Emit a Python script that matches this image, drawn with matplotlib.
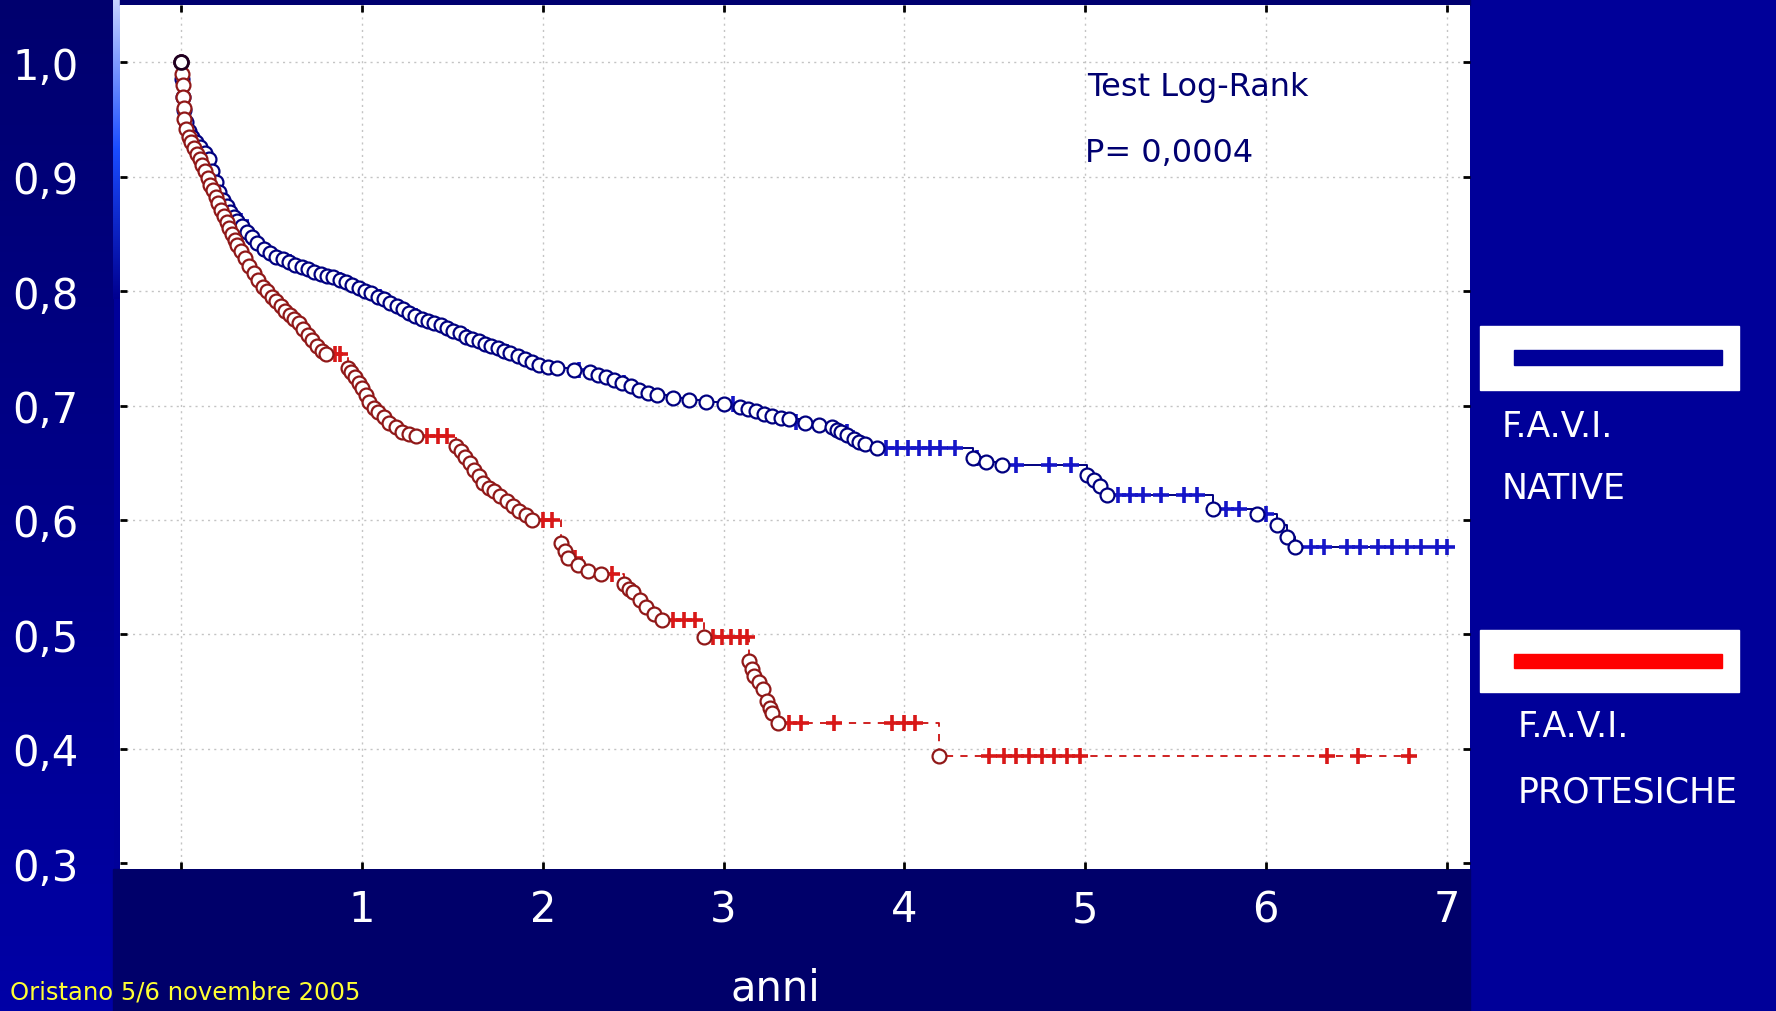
import numpy as np
import matplotlib
matplotlib.use("Agg")
import matplotlib.pyplot as plt
from matplotlib.patches import Rectangle
from matplotlib.colors import LinearSegmentedColormap

# F.A.V.I. native: event times (years) and survival after each event
native_t = [0.0, 0.005, 0.01, 0.015, 0.025, 0.04, 0.06, 0.08, 0.10, 0.13, 0.15, 0.17,
            0.19, 0.21, 0.23, 0.25, 0.27, 0.29, 0.31, 0.335, 0.36, 0.39, 0.42, 0.455,
            0.49, 0.525, 0.56, 0.595, 0.63, 0.665, 0.70, 0.735, 0.77, 0.805, 0.84, 0.875,
            0.91, 0.945, 0.98, 1.015, 1.05, 1.085, 1.12, 1.155, 1.19, 1.225, 1.26, 1.295,
            1.33, 1.365, 1.40, 1.435, 1.47, 1.505, 1.54, 1.575, 1.61, 1.645, 1.68, 1.715,
            1.75, 1.785, 1.82, 1.86, 1.90, 1.94, 1.98, 2.03, 2.08, 2.17, 2.26, 2.305,
            2.35, 2.395, 2.44, 2.485, 2.53, 2.58, 2.63, 2.72, 2.81, 2.90, 3.00, 3.09,
            3.135, 3.18, 3.225, 3.27, 3.315, 3.36, 3.45, 3.53, 3.60, 3.625, 3.65, 3.685,
            3.72, 3.75, 3.78, 3.85, 4.38, 4.45, 4.54, 5.01, 5.05, 5.08, 5.12, 5.71,
            5.95, 6.06, 6.12, 6.16]
native_s = [1.0, 0.985, 0.97, 0.958, 0.948, 0.94, 0.935, 0.93, 0.926, 0.921, 0.915, 0.905,
            0.895, 0.887, 0.880, 0.874, 0.869, 0.865, 0.861, 0.857, 0.852, 0.847, 0.842, 0.837,
            0.833, 0.830, 0.828, 0.825, 0.823, 0.821, 0.819, 0.817, 0.815, 0.813, 0.812, 0.810,
            0.808, 0.805, 0.803, 0.800, 0.798, 0.795, 0.793, 0.790, 0.787, 0.784, 0.781, 0.778,
            0.776, 0.774, 0.772, 0.770, 0.768, 0.765, 0.763, 0.760, 0.758, 0.756, 0.754, 0.752,
            0.750, 0.748, 0.746, 0.743, 0.741, 0.738, 0.735, 0.734, 0.733, 0.731, 0.729, 0.727,
            0.725, 0.722, 0.720, 0.717, 0.714, 0.711, 0.709, 0.707, 0.705, 0.703, 0.701, 0.699,
            0.697, 0.695, 0.693, 0.691, 0.689, 0.688, 0.685, 0.683, 0.681, 0.679, 0.677, 0.674,
            0.671, 0.668, 0.666, 0.663, 0.654, 0.651, 0.648, 0.639, 0.635, 0.630, 0.622, 0.610,
            0.605, 0.596, 0.585, 0.576]
native_cens_t = [0.17, 0.21, 0.25, 0.29, 0.33, 0.38, 0.45, 0.52, 0.60, 0.88, 1.10, 1.30,
                 1.58, 1.80, 2.20, 2.45, 3.05, 3.40, 3.68, 3.90, 3.96, 4.02, 4.08, 4.14,
                 4.20, 4.28, 4.40, 4.62, 4.80, 4.92, 5.18, 5.25, 5.32, 5.42, 5.55, 5.62,
                 5.78, 5.85, 6.00, 6.25, 6.32, 6.45, 6.52, 6.62, 6.70, 6.78, 6.86, 6.95, 7.00]
native_cens_s = [0.905, 0.887, 0.874, 0.865, 0.861, 0.847, 0.837, 0.830, 0.825, 0.810, 0.795, 0.778,
                 0.760, 0.747, 0.731, 0.720, 0.701, 0.686, 0.677, 0.663, 0.663, 0.663, 0.663, 0.663,
                 0.663, 0.663, 0.654, 0.648, 0.648, 0.648, 0.622, 0.622, 0.622, 0.622, 0.622, 0.622,
                 0.610, 0.610, 0.605, 0.576, 0.576, 0.576, 0.576, 0.576, 0.576, 0.576, 0.576, 0.576, 0.576]

# F.A.V.I. protesiche
prot_t = [0.0, 0.003, 0.006, 0.009, 0.012, 0.016, 0.025, 0.04, 0.055, 0.07, 0.085, 0.10,
          0.115, 0.13, 0.145, 0.16, 0.175, 0.19, 0.205, 0.22, 0.235, 0.25, 0.265, 0.28,
          0.295, 0.31, 0.33, 0.35, 0.375, 0.40, 0.425, 0.45, 0.475, 0.50, 0.525, 0.55,
          0.575, 0.60, 0.625, 0.65, 0.675, 0.70, 0.725, 0.75, 0.775, 0.80, 0.92, 0.94,
          0.96, 0.98, 1.00, 1.02, 1.04, 1.065, 1.09, 1.12, 1.15, 1.185, 1.22, 1.26,
          1.30, 1.52, 1.545, 1.57, 1.595, 1.62, 1.645, 1.67, 1.70, 1.73, 1.765, 1.80,
          1.835, 1.87, 1.905, 1.94, 2.10, 2.12, 2.14, 2.195, 2.25, 2.32, 2.45, 2.475,
          2.50, 2.535, 2.57, 2.615, 2.66, 2.89, 3.14, 3.155, 3.17, 3.195, 3.22, 3.24,
          3.255, 3.27, 3.30, 4.19]
prot_s = [1.0, 0.99, 0.98, 0.97, 0.96, 0.95, 0.942, 0.935, 0.93, 0.925, 0.92, 0.915,
          0.91, 0.905, 0.899, 0.893, 0.888, 0.882, 0.877, 0.871, 0.866, 0.860, 0.855, 0.850,
          0.845, 0.840, 0.835, 0.829, 0.822, 0.816, 0.810, 0.804, 0.800, 0.795, 0.791, 0.787,
          0.783, 0.779, 0.776, 0.772, 0.767, 0.762, 0.757, 0.752, 0.748, 0.745, 0.733, 0.729,
          0.725, 0.720, 0.715, 0.709, 0.703, 0.698, 0.694, 0.690, 0.685, 0.681, 0.677, 0.675,
          0.673, 0.665, 0.660, 0.655, 0.650, 0.644, 0.638, 0.632, 0.628, 0.625, 0.621, 0.617,
          0.612, 0.608, 0.604, 0.600, 0.580, 0.573, 0.567, 0.561, 0.555, 0.553, 0.544, 0.540,
          0.537, 0.530, 0.524, 0.518, 0.513, 0.498, 0.477, 0.470, 0.464, 0.458, 0.452, 0.442,
          0.436, 0.431, 0.423, 0.394]
prot_cens_t = [0.85, 0.88, 1.36, 1.42, 1.47, 2.00, 2.05, 2.18, 2.38, 2.72, 2.78, 2.84,
               2.94, 2.99, 3.04, 3.09, 3.13, 3.36, 3.43, 3.61, 3.93, 4.00, 4.06, 4.47,
               4.55, 4.62, 4.69, 4.76, 4.83, 4.90, 4.97, 6.34, 6.51, 6.79]
prot_cens_s = [0.745, 0.745, 0.673, 0.673, 0.673, 0.600, 0.600, 0.567, 0.553, 0.513, 0.513, 0.513,
               0.498, 0.498, 0.498, 0.498, 0.498, 0.423, 0.423, 0.423, 0.423, 0.423, 0.423, 0.394,
               0.394, 0.394, 0.394, 0.394, 0.394, 0.394, 0.394, 0.394, 0.394, 0.394]

y_ticks = [0.3, 0.4, 0.5, 0.6, 0.7, 0.8, 0.9, 1.0]
y_labels = ["0,3", "0,4", "0,5", "0,6", "0,7", "0,8", "0,9", "1,0"]
x_ticks = [0, 1, 2, 3, 4, 5, 6, 7]
x_labels = ["", "1", "2", "3", "4", "5", "6", "7"]

W, H = 1776, 1012
fig = plt.figure(figsize=(W / 100, H / 100), dpi=100)
fig.patch.set_facecolor('#000099')

# slide background, in pixel coords
bg = fig.add_axes([0, 0, 1, 1], zorder=-1)
grad = np.linspace(0, 1, 256).reshape(-1, 1)
bg.imshow(grad, cmap=LinearSegmentedColormap.from_list('lc', ['#00006e', '#0000a6']),
          extent=(0, 113, H, 0), aspect='auto')
bg.imshow(grad, cmap=LinearSegmentedColormap.from_list('st', ['#c8d4ff', '#1a4cff', '#000090']),
          extent=(113, 120, 300, 0), aspect='auto')
bg.add_patch(Rectangle((113, 870), 1357, 142, color='#00006a'))
bg.add_patch(Rectangle((120, 0), 1350, 6, color='#000070'))
bg.set_xlim(0, W)
bg.set_ylim(H, 0)
bg.axis('off')

ax = fig.add_axes([120 / W, 1 - 870 / H, 1350 / W, 864 / H])
ax.set_facecolor('white')
for sp in ax.spines.values():
    sp.set_visible(False)

navy = '#000080'
ax.step(native_t + [native_cens_t[-1]], native_s + [native_s[-1]], where='post',
        color=navy, lw=1.4, zorder=2)
ax.plot(native_cens_t, native_cens_s, '+', color='#1515c8', ms=11, mew=2.6, zorder=3)
ax.plot(native_t, native_s, 'o', mfc='white', mec=navy, ms=10, mew=1.6, zorder=4)

ax.step(prot_t + [prot_cens_t[-1]], prot_s + [prot_s[-1]], where='post',
        color='#cc1010', lw=1.3, ls=(0, (4, 4)), zorder=5)
ax.plot(prot_cens_t, prot_cens_s, '+', color='#d81818', ms=11, mew=2.6, zorder=6)
ax.plot(prot_t, prot_s, 'o', mfc='white', mec='#901818', ms=10, mew=1.6, zorder=7)
ax.plot([0], [1.0], 'o', mfc='white', mec='#200020', ms=10, mew=2, zorder=8)

ax.set_xlim(-0.34, 7.13)
ax.set_ylim(0.295, 1.05)
ax.set_xticks(x_ticks)
ax.set_xticklabels(x_labels)
ax.set_yticks(y_ticks)
ax.set_yticklabels(y_labels)
ax.grid(True, color='#c4c4c4', lw=1, ls=(0, (1.5, 3)), zorder=0)
ax.get_ygridlines()[0].set_visible(False)
ax.tick_params(direction='in', length=5, width=2, color='black',
               top=True, right=True, labelcolor='white', labelsize=30)
ax.tick_params(axis='y', pad=30)
ax.tick_params(axis='x', pad=14)

# texts on the slide
ax.text(1087, 87, "Test Log-Rank", transform=bg.transData, color='#000070',
        fontsize=23, va='center', ha='left')
ax.text(1085, 153, "P= 0,0004", transform=bg.transData, color='#000070',
        fontsize=23, va='center', ha='left')
bg.text(775, 1010, "anni", color='white', fontsize=30, ha='center', va='bottom')
bg.text(10, 1000, "Oristano 5/6 novembre 2005", color='#ffff33', fontsize=17.5,
        ha='left', va='baseline')

# legend boxes
bg.add_patch(Rectangle((1480, 327), 259, 64, color='white'))
bg.add_patch(Rectangle((1514, 351), 208, 15, color='#000099'))
bg.add_patch(Rectangle((1480, 631), 259, 62, color='white'))
bg.add_patch(Rectangle((1514, 655), 208, 14, color='#ff0000'))
bg.text(1502, 427, "F.A.V.I.", color='white', fontsize=25, va='center')
bg.text(1502, 489, "NATIVE", color='white', fontsize=25, va='center')
bg.text(1518, 727, "F.A.V.I.", color='white', fontsize=25, va='center')
bg.text(1518, 793, "PROTESICHE", color='white', fontsize=25, va='center')

fig.savefig('out.png', dpi=100, facecolor=fig.get_facecolor())
